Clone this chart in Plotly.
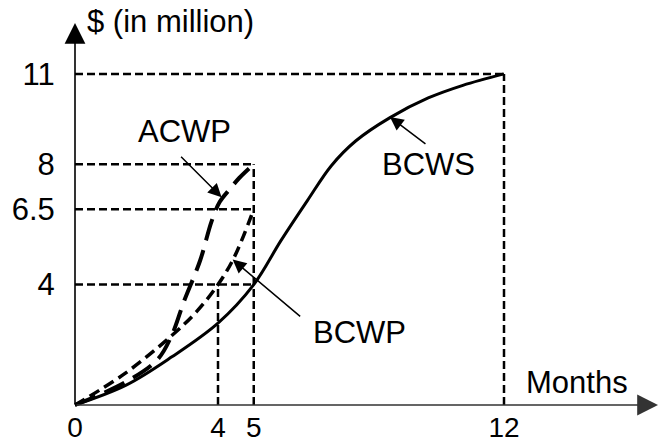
import plotly.graph_objects as go

# ---- data ----
bcws_months = [0, 1.43, 2.71, 4, 5, 5.76, 6.5, 7.17, 7.85, 8.8, 9.88, 10.85, 12]
bcws_values = [0, 0.66, 1.6, 2.72, 4, 5.46, 6.79, 7.95, 8.77, 9.54, 10.2, 10.62, 11]

bcwp_months = [0, 1.4, 2.7, 3.4, 4, 4.45, 5]
bcwp_values = [0, 1.05, 2.3, 3.1, 4.0, 4.9, 6.5]

acwp_months = [0, 1.4, 2.3, 2.7, 3.05, 3.5, 3.82, 4.05, 4.35, 4.6, 5]
acwp_values = [0, 0.75, 1.5, 2.3, 3.45, 4.8, 6.1, 6.75, 7.2, 7.55, 8]

x_ticks = [0, 4, 5, 12]
x_tick_labels = ["0", "4", "5", "12"]
y_ticks = [4, 6.5, 8, 11]
y_tick_labels = ["4", "6.5", "8", "11"]

# reference (guide) points: (month, value)
guide_points = [(4, 4), (5, 4), (5, 6.5), (5, 8), (12, 11)]

x_range = [-75 / 35.75, (659 - 75) / 35.75]
y_range = [-39 / 30.1, 405 / 30.1]

FONT = "Liberation Sans, Arial, sans-serif"
FS = 31

fig = go.Figure()

fig.add_trace(go.Scatter(x=bcws_months, y=bcws_values, mode="lines",
                         line=dict(color="black", width=3, shape="spline"),
                         name="BCWS", showlegend=False))
fig.add_trace(go.Scatter(x=bcwp_months, y=bcwp_values, mode="lines",
                         line=dict(color="black", width=3.5, shape="spline", dash="11px,6px"),
                         name="BCWP", showlegend=False))
fig.add_trace(go.Scatter(x=acwp_months, y=acwp_values, mode="lines",
                         line=dict(color="black", width=4, shape="spline", dash="22px,10px"),
                         name="ACWP", showlegend=False))

# dashed guide lines
shapes = []
guide_dash = dict(color="black", width=2.5, dash="8px,4px")
h_lines = {}
for gx, gy in guide_points:
    h_lines[gy] = max(h_lines.get(gy, 0), gx)
for gy, gx in h_lines.items():
    shapes.append(dict(type="line", xref="x", yref="y", x0=0, x1=gx, y0=gy, y1=gy, line=guide_dash))
v_lines = {}
for gx, gy in guide_points:
    v_lines[gx] = max(v_lines.get(gx, 0), gy)
for gx, gy in v_lines.items():
    shapes.append(dict(type="line", xref="x", yref="y", x0=gx, x1=gx, y0=0, y1=gy, line=guide_dash))

annotations = []
# axes with arrows
y_tip = (405 - 23) / 30.1
x_tip = (658 - 75) / 35.75
annotations.append(dict(x=0, y=y_tip, ax=0, ay=0, axref="x", ayref="y", xref="x", yref="y",
                        text="", showarrow=True, arrowhead=2, arrowsize=2.6, arrowwidth=1.6,
                        arrowcolor="black"))
annotations.append(dict(x=x_tip, y=0, ax=0, ay=0, axref="x", ayref="y", xref="x", yref="y",
                        text="", showarrow=True, arrowhead=2, arrowsize=2.6, arrowwidth=1.6,
                        arrowcolor="#333333"))

# pointer arrows
pointer = dict(xref="x", yref="y", text="", showarrow=True, arrowhead=2, arrowsize=1.8,
               arrowwidth=1.5, arrowcolor="black", standoff=0)
annotations.append(dict(pointer, x=4.1, y=6.9, ax=-42, ay=-42))      # ACWP
annotations.append(dict(pointer, x=8.81, y=9.57, ax=37, ay=28))      # BCWS
annotations.append(dict(pointer, x=4.41, y=4.83, ax=69, ay=58))      # BCWP

txt = dict(xref="x", yref="y", showarrow=False, font=dict(family=FONT, size=FS, color="black"))
annotations.append(dict(txt, x=3.05, y=9.1, text="ACWP"))
annotations.append(dict(txt, x=9.9, y=8.0, text="BCWS"))
annotations.append(dict(txt, x=7.95, y=2.41, text="BCWP"))
annotations.append(dict(txt, x=14.05, y=0.76, text="Months"))
annotations.append(dict(txt, x=(85 - 75) / 35.75, y=(405 - 21) / 30.1, text="$ (in million)",
                        xanchor="left"))

fig.update_layout(
    width=659, height=444,
    margin=dict(l=0, r=0, t=0, b=0),
    paper_bgcolor="white", plot_bgcolor="white",
    font=dict(family=FONT, size=FS, color="black"),
    shapes=shapes, annotations=annotations,
    showlegend=False,
    xaxis=dict(range=x_range, anchor="free", position=(444 - 408) / 444, showgrid=False,
               zeroline=False, showline=False, tickvals=x_ticks, ticktext=x_tick_labels,
               ticks="", automargin=False,
               tickfont=dict(family=FONT, size=28)),
    yaxis=dict(range=y_range, anchor="free", position=75 / 659, showgrid=False, zeroline=False,
               showline=False, tickvals=y_ticks, ticktext=y_tick_labels, ticks="outside",
               ticklen=14, tickcolor="rgba(0,0,0,0)", automargin=False,
               tickfont=dict(family=FONT, size=FS)),
)

fig.write_html("out.html", config={"displayModeBar": False},
               post_script="document.body.style.margin='0';document.body.style.overflow='hidden';")
